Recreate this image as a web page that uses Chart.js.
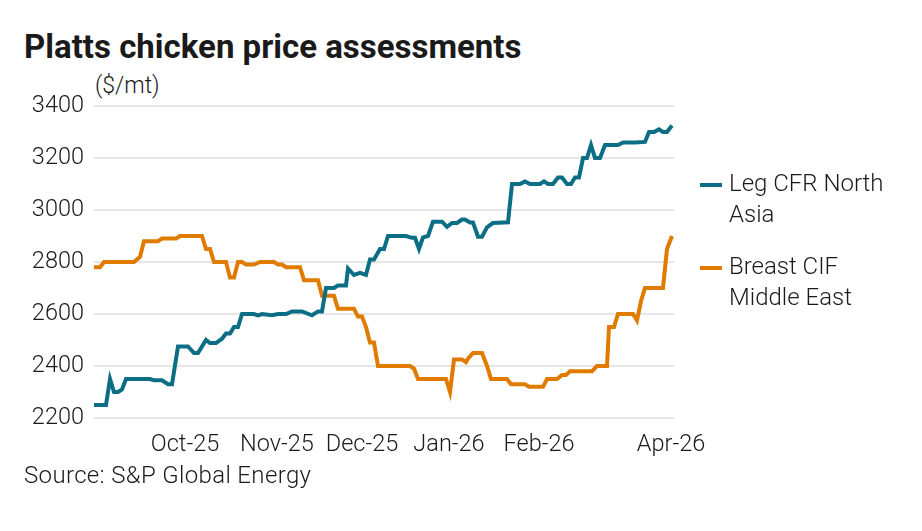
<!DOCTYPE html>
<html>
<head>
<meta charset="utf-8">
<script src="https://cdn.jsdelivr.net/npm/chart.js@4/dist/chart.umd.min.js"></script>
<style>
  html, body { margin: 0; padding: 0; background: #fff; }
  body { width: 922px; height: 531px; position: relative; overflow: hidden; font-family: Roboto, sans-serif; color: #1a1a1a; }
  #wrap { position: absolute; left: 0; top: 0; width: 922px; height: 531px; }
  .title { position: absolute; left: 24px; top: 27px; font-size: 33px; font-weight: bold; letter-spacing: 0px; }
  .unit { position: absolute; left: 95px; top: 72px; font-size: 23px; font-weight: 300; }
  .source { position: absolute; left: 24px; top: 461px; font-size: 24px; font-weight: 300; letter-spacing: 0.35px; }
  #legend { position: absolute; left: 700px; top: 168px; }
  .item { position: relative; padding-left: 29px; font-size: 24px; font-weight: 300; line-height: 31px; margin-bottom: 21px; }
  .item span { position: absolute; left: 0; top: 15px; width: 22px; height: 4px; }
</style>
</head>
<body>
<div class="title">Platts chicken price assessments</div>
<div class="unit">($/mt)</div>
<div id="wrap"><canvas id="chart" width="922" height="531"></canvas></div>
<div id="legend"></div>
<div class="source">Source: S&amp;P Global Energy</div>
<script>
// series: trading-day index -> $/mt
let legDays = [0, 3, 4, 5, 6, 7, 8, 14, 15, 17, 18.5, 19.5, 21, 23.5, 25, 26, 28, 29, 30.5, 32, 33, 34, 35, 36, 37, 40, 41, 42, 44.5, 46, 48, 49.5, 52, 54.5, 56, 57, 58, 60, 61, 63, 63.5, 65, 66.5, 68, 69, 70, 71.5, 72.5, 73.5, 78, 79.5, 80.25, 81.25, 82.25, 83.5, 84.75, 87, 88.25, 89.5, 90.75, 92, 92.75, 94, 94.75, 96, 97, 98.25, 99.75, 103.5, 104.5, 106.5, 107.75, 109, 111.5, 112.5, 113.5, 114.75, 116, 117, 118.25, 119.25, 120.25, 121.25, 122.25, 123.25, 124.25, 125.25, 126.5, 127.75, 131, 132.25, 135.25, 137.75, 138.75, 140, 141.25, 142.25, 143.25, 144.5]
let legPrices = [2250, 2250, 2350, 2300, 2300, 2310, 2350, 2350, 2345, 2345, 2330, 2330, 2475, 2475, 2450, 2450, 2500, 2488, 2488, 2505, 2525, 2525, 2550, 2550, 2600, 2600, 2595, 2600, 2595, 2600, 2600, 2610, 2610, 2595, 2610, 2610, 2700, 2700, 2710, 2710, 2775, 2750, 2758, 2750, 2810, 2810, 2850, 2850, 2900, 2900, 2893, 2893, 2850, 2895, 2900, 2955, 2955, 2935, 2950, 2950, 2963, 2963, 2952, 2952, 2897, 2897, 2933, 2950, 2953, 3100, 3100, 3110, 3100, 3100, 3110, 3100, 3100, 3125, 3125, 3100, 3100, 3125, 3125, 3200, 3200, 3250, 3200, 3200, 3250, 3250, 3260, 3260, 3262, 3300, 3300, 3310, 3300, 3300, 3325]

let breastDays = [0, 1.5, 2.5, 10, 11.5, 12.5, 16, 17, 20.5, 21.5, 27, 28, 29, 30, 33, 34, 35, 36, 37, 38, 40, 41.5, 45, 46, 47, 48, 51.5, 52.5, 56, 57, 60, 61, 65, 66, 67, 68, 69, 70, 71, 79, 80, 81, 88, 89, 90, 92, 93, 93.5, 94.75, 97, 98.25, 99.25, 103.25, 104.25, 107.75, 108.75, 112.25, 113.25, 115.75, 117, 118, 119, 124.5, 125.75, 128.25, 128.75, 130, 131, 134.75, 135.75, 136.75, 137.75, 142.25, 143.25, 144.5]
let breastPrices = [2780, 2780, 2800, 2800, 2820, 2880, 2880, 2890, 2890, 2900, 2900, 2850, 2850, 2800, 2800, 2740, 2740, 2800, 2800, 2790, 2790, 2800, 2800, 2790, 2790, 2780, 2780, 2730, 2730, 2670, 2670, 2620, 2620, 2590, 2590, 2550, 2490, 2490, 2400, 2400, 2390, 2350, 2350, 2300, 2425, 2425, 2415, 2428, 2450, 2450, 2400, 2350, 2350, 2330, 2330, 2320, 2320, 2350, 2350, 2365, 2365, 2380, 2380, 2400, 2400, 2550, 2550, 2600, 2600, 2575, 2650, 2700, 2700, 2850, 2900]

// month labels and where they sit on the day axis
let tickDays = [22.75, 45.75, 67, 88.75, 111.25, 144.25]
let tickLabels = ['Oct-25', 'Nov-25', 'Dec-25', 'Jan-26', 'Feb-26', 'Apr-26']

let yTicks = [2200, 2400, 2600, 2800, 3000, 3200, 3400]

let seriesNames = [['Leg CFR North', 'Asia'], ['Breast CIF', 'Middle East']]
let seriesColors = ['#0b6e85', '#e07b00']

function toPoints(xs, ys) {
    let pts = []
    for (let i = 0; i < xs.length; i++) {
        pts.push({ x: xs[i], y: ys[i] })
    }
    return pts
}

let tickFont = { family: 'Roboto', size: 23.5, weight: 300 }

var ctx = document.getElementById('chart')
var chart = new Chart(ctx, {
    type: 'line',
    data: {
        datasets: [{
            label: seriesNames[0].join(' '),
            data: toPoints(legDays, legPrices),
            borderColor: seriesColors[0],
            borderWidth: 4,
            pointRadius: 0,
            tension: 0
        }, {
            label: seriesNames[1].join(' '),
            data: toPoints(breastDays, breastPrices),
            borderColor: seriesColors[1],
            borderWidth: 4,
            pointRadius: 0,
            tension: 0
        }]
    },
    options: {
        responsive: false,
        animation: false,
        layout: {
            padding: { left: 0, right: 248, top: 106, bottom: 63 }
        },
        plugins: {
            legend: { display: false },
            tooltip: { enabled: false }
        },
        scales: {
            x: {
                type: 'linear',
                min: 0,
                max: 145,
                grid: { display: false },
                border: { display: false },
                afterBuildTicks: function(axis) {
                    axis.ticks = tickDays.map(function(d) { return { value: d } })
                },
                afterFit: function(axis) { axis.height = 50 },
                ticks: {
                    autoSkip: false,
                    maxRotation: 0,
                    padding: 5,
                    color: '#1a1a1a',
                    font: tickFont,
                    callback: function(value) {
                        let i = tickDays.indexOf(value)
                        return i >= 0 ? tickLabels[i] : ''
                    }
                }
            },
            y: {
                min: yTicks[0],
                max: yTicks[yTicks.length - 1],
                afterBuildTicks: function(axis) {
                    axis.ticks = yTicks.map(function(v) { return { value: v } })
                },
                afterFit: function(axis) { axis.width = 94 },
                grid: { color: '#e6e6e6', lineWidth: 2, drawTicks: false },
                border: { display: false },
                ticks: {
                    padding: 10,
                    color: '#1a1a1a',
                    font: tickFont,
                    callback: function(value) { return String(value) }
                }
            }
        }
    }
})

// html legend with the two-line names
let legend = document.getElementById('legend')
for (let i = 0; i < seriesNames.length; i++) {
    let item = document.createElement('div')
    item.className = 'item'
    item.innerHTML = '<span style="background:' + seriesColors[i] + '"></span>' + seriesNames[i].join('<br>')
    legend.appendChild(item)
}
</script>
</body>
</html>
